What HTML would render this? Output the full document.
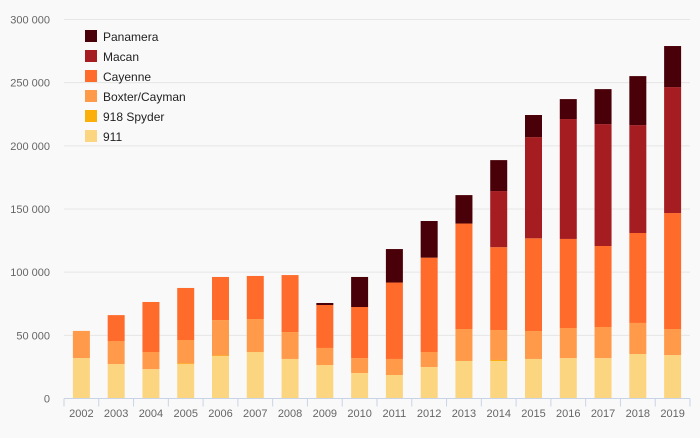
<!DOCTYPE html>
<html><head><meta charset="utf-8"><style>
body{margin:0;background:#f9f9f9;font-family:"Liberation Sans",sans-serif}
svg text{font-family:"Liberation Sans",sans-serif}
</style></head><body>
<svg id="chart" width="700" height="433"></svg>
<script>
const years=["2002","2003","2004","2005","2006","2007","2008","2009","2010","2011","2012","2013","2014","2015","2016","2017","2018","2019"];
const s911=[32000,27300,23300,27300,33600,36800,31300,26500,20200,18600,24900,29700,29700,31300,32000,32000,35200,34400];
const s918=[0,0,0,500,500,0,0,0,0,0,0,0,800,0,0,0,0,0];
const sBoxter=[21500,18200,13500,18500,28000,26100,21300,13500,11800,12700,11900,25300,23700,22100,23800,24600,24600,20600];
const sCayenne=[0,20500,39600,41200,34100,34100,45100,34000,40400,60500,74700,83500,65600,73400,70500,64100,71200,91800];
const sMacan=[0,0,0,0,0,0,0,0,0,0,0,0,44400,80100,94900,96500,85400,99700];
const sPanamera=[0,0,0,0,0,0,0,1600,23800,26500,29000,22500,24500,17500,15800,27700,38800,32500];
const yTicks=[0,50000,100000,150000,200000,250000,300000];
const yTickLabels=["0","50 000","100 000","150 000","200 000","250 000","300 000"];
const series=[["911",s911,"#fcd581"],["918 Spyder",s918,"#fbaf0b"],["Boxter/Cayman",sBoxter,"#fe9a4a"],["Cayenne",sCayenne,"#ff6b2b"],["Macan",sMacan,"#a51c21"],["Panamera",sPanamera,"#4a0008"]];
const NS="http://www.w3.org/2000/svg",svg=document.getElementById('chart');
const x0=64,x1=690,y0=398.5,yTop=19.5,band=(x1-x0)/years.length,bw=17;
const y=v=>y0-(v/300000)*(y0-yTop);
function mk(t,a,p){const e=document.createElementNS(NS,t);for(const k in a)e.setAttribute(k,a[k]);(p||svg).appendChild(e);return e;}
yTicks.forEach((t,i)=>{
 if(i>0){const l=mk('line',{x1:x0,x2:x1,y1:y(t),y2:y(t),stroke:'#e6e6e6'});
 
 }
 const tx=mk('text',{x:50,y:y(t)+4,'text-anchor':'end','font-size':11,fill:'#666'});tx.textContent=yTickLabels[i];
 
 
});
years.forEach((yr,i)=>{
 const cx=x0+band*(i+0.5);let acc=0;
 series.forEach(([n,arr,c])=>{const v=arr[i];if(v>0){const r=mk('rect',{x:cx-bw/2,y:y(acc+v),width:bw,height:y(acc)-y(acc+v),fill:c});
 
 }acc+=v;});
 const tx=mk('text',{x:cx,y:417,'text-anchor':'middle','font-size':11,fill:'#666'});tx.textContent=yr;
 
 
 const tk=mk('line',{x1:x0+band*i,x2:x0+band*i,y1:y0,y2:y0+8,stroke:'#c8d4e6'});
 
 
});
const tkl=mk('line',{x1:x1,x2:x1,y1:y0,y2:y0+8,stroke:'#c8d4e6'});


const ax=mk('line',{x1:x0,x2:x1,y1:y0,y2:y0,stroke:'#c8d4e6'});


const lg=mk('g',{});


series.slice().reverse().forEach(([n,a,c],i)=>{
 const g=mk('g',{},lg);
 
 
 mk('rect',{x:85,y:30+i*20,width:12,height:12,fill:c},g);
 const t=mk('text',{x:103,y:41+i*20,'font-size':12,fill:'#222'},g);t.textContent=n;
});
</script>
</body></html>
